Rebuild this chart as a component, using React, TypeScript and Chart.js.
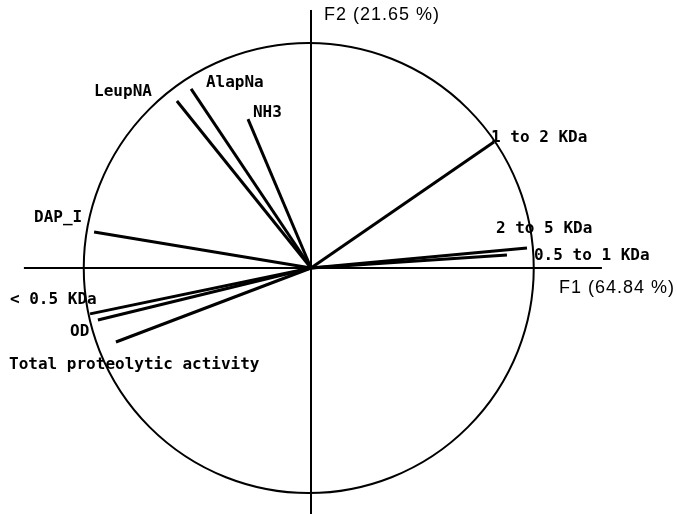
import React, { useEffect, useRef } from "react";
import { Chart, registerables } from "chart.js";

Chart.register(...registerables);

// Variables of the PCA correlation circle
const variables = [
  "LeupNA",
  "AlapNa",
  "NH3",
  "1 to 2 KDa",
  "2 to 5 KDa",
  "0.5 to 1 KDa",
  "DAP_I",
  "< 0.5 KDa",
  "OD",
  "Total proteolytic activity",
];
// Loadings on F1 and F2
const f1 = [-0.596, -0.533, -0.28, 0.813, 0.96, 0.871, -0.964, -0.982, -0.947, -0.867];
const f2 = [0.742, 0.796, 0.662, 0.56, 0.089, 0.058, 0.16, -0.204, -0.231, -0.329];

const axisTitles = ["F1 (64.84 %)", "F2 (21.65 %)"];

// label anchors (data units, left-middle of text)
const LABEL_X = [-0.964, -0.467, -0.258, 0.8, 0.822, 0.991, -1.231, -1.338, -1.071, -1.342];
const LABEL_Y = [0.782, 0.822, 0.689, 0.578, 0.173, 0.053, 0.222, -0.142, -0.284, -0.431];
const TITLE_POS = [
  { x: 1.102, y: -0.089 },
  { x: 0.058, y: 1.124 },
];
// axis line extents (data units)
const H_AXIS = [-1.276, 1.293];
const V_AXIS = [1.147, -1.1];

export default function App() {
  const ref = useRef<HTMLCanvasElement | null>(null);

  useEffect(() => {
    if (!ref.current) return;

    const circlePlugin = {
      id: "circle",
      beforeDatasetsDraw(chart: any) {
        const { ctx, scales } = chart;
        const xs = scales.x;
        const ys = scales.y;
        const cx = xs.getPixelForValue(-0.01);
        const cy = ys.getPixelForValue(0);
        const rx = xs.getPixelForValue(1) - xs.getPixelForValue(0);
        const ry = cy - ys.getPixelForValue(1);
        ctx.save();
        ctx.beginPath();
        ctx.ellipse(cx, cy, rx, ry, 0, 0, Math.PI * 2);
        ctx.lineWidth = 2;
        ctx.strokeStyle = "#000";
        ctx.stroke();
        ctx.restore();
      },
    };

    const labelPlugin = {
      id: "labels",
      afterDatasetsDraw(chart: any) {
        const { ctx, scales } = chart;
        const xs = scales.x;
        const ys = scales.y;
        ctx.save();
        ctx.fillStyle = "#000";
        ctx.textBaseline = "middle";
        ctx.textAlign = "left";
        ctx.font = 'bold 16px "DejaVu Sans Mono"';
        variables.forEach((v, i) => {
          ctx.fillText(v, xs.getPixelForValue(LABEL_X[i]), ys.getPixelForValue(LABEL_Y[i]));
        });
        ctx.font = '18px "Liberation Sans"';
        (ctx as any).letterSpacing = "1px";
        axisTitles.forEach((t, i) => {
          ctx.fillText(t, xs.getPixelForValue(TITLE_POS[i].x), ys.getPixelForValue(TITLE_POS[i].y));
        });
        ctx.restore();
      },
    };

    const vectorSets = variables.map((v, i) => ({
      label: v,
      data: [
        { x: 0, y: 0 },
        { x: f1[i], y: f2[i] },
      ],
      showLine: true,
      borderColor: "#000",
      borderWidth: 3,
      pointRadius: 0,
      fill: false,
    }));

    const axisSets = [
      {
        label: "F1 axis",
        data: [
          { x: H_AXIS[0], y: 0 },
          { x: H_AXIS[1], y: 0 },
        ],
        showLine: true,
        borderColor: "#000",
        borderWidth: 2,
        pointRadius: 0,
      },
      {
        label: "F2 axis",
        data: [
          { x: 0, y: V_AXIS[0] },
          { x: 0, y: V_AXIS[1] },
        ],
        showLine: true,
        borderColor: "#000",
        borderWidth: 2,
        pointRadius: 0,
      },
    ];

    const chart = new Chart(ref.current, {
      type: "scatter",
      data: { datasets: [...axisSets, ...vectorSets] as any },
      options: {
        animation: false,
        responsive: false,
        maintainAspectRatio: false,
        layout: { padding: 0 },
        plugins: {
          legend: { display: false },
          tooltip: { enabled: false },
          title: { display: false },
        },
        scales: {
          x: { type: "linear", min: -311 / 225, max: 366 / 225, display: false },
          y: { type: "linear", min: -246 / 225, max: 268 / 225, display: false },
        },
      },
      plugins: [circlePlugin, labelPlugin],
    });

    return () => chart.destroy();
  }, []);

  return (
    <div style={{ position: "absolute", left: 0, top: 0, width: 677, height: 514, background: "#fff" }}>
      <canvas ref={ref} width={677} height={514} />
    </div>
  );
}
